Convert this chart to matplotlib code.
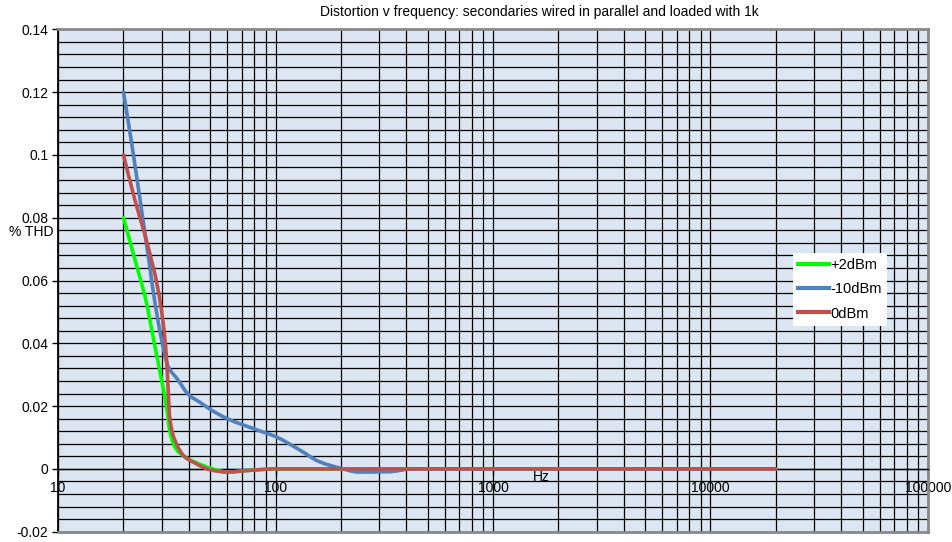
import matplotlib
matplotlib.use('Agg')
import numpy as np
import matplotlib.pyplot as plt
import matplotlib.transforms as mtransforms
from matplotlib.ticker import LogLocator, MultipleLocator, NullFormatter
from matplotlib.path import Path
from matplotlib.patches import PathPatch
from matplotlib.lines import Line2D

plt.rcParams['font.family'] = ['Liberation Sans', 'DejaVu Sans']

# ---------------- data ----------------
title = "Distortion v frequency: secondaries wired in parallel and loaded with 1k"
y_label = "% THD"
x_label = "Hz"

freq_p2 = [20, 23, 25.1, 27.9, 29.9, 31.5, 32.6, 34.4, 38.2, 42.5, 51.5, 60, 75, 100, 20000]
thd_p2 = [0.080, 0.0646, 0.055, 0.039, 0.0285, 0.020, 0.0125, 0.007, 0.0039, 0.0022,
          0.0, -0.001, -0.0005, 0.0, 0.0]

freq_m10 = [20, 22, 23.8, 26.4, 27.3, 29.9, 32.1, 35.5, 40, 45, 50, 60, 80, 100, 128,
            159, 197, 242, 333, 425, 20000]
thd_m10 = [0.120, 0.102, 0.086, 0.0646, 0.0573, 0.0413, 0.0326, 0.0285, 0.0235, 0.0212,
           0.0190, 0.0160, 0.0127, 0.0103, 0.0062, 0.0023, 0.0003, -0.001, -0.0009, 0.0, 0.0]

freq_0 = [20, 22.5, 25.6, 28.8, 30.4, 31.5, 32.1, 32.6, 34.4, 38.2, 42.5, 50, 60, 75, 100, 20000]
thd_0 = [0.100, 0.086, 0.0723, 0.0573, 0.0467, 0.0358, 0.0253, 0.0166, 0.0093, 0.0039,
         0.0019, -0.0003, -0.001, -0.0005, 0.0, 0.0]

series_labels = ["+2dBm", "-10dBm", "0dBm"]
series_colors = ["#00FF00", "#4F81BD", "#C0504D"]

x_ticks = [10, 100, 1000, 10000, 100000]
x_tick_labels = ["10", "100", "1000", "10000", "100000"]
y_ticks = [-0.02, 0, 0.02, 0.04, 0.06, 0.08, 0.1, 0.12, 0.14]
y_tick_labels = ["-0.02", "0", "0.02", "0.04", "0.06", "0.08", "0.1", "0.12", "0.14"]


def smooth_path(xs, ys):
    """Shape-preserving cubic Bezier path through the points (log-x space),
    like a spreadsheet's 'smoothed line'."""
    u = np.log10(np.asarray(xs, float))
    y = np.asarray(ys, float)
    h = np.diff(u)
    d = np.diff(y) / h
    n = len(u)
    m = np.zeros(n)
    m[0], m[-1] = d[0], d[-1]
    for k in range(1, n - 1):
        if d[k - 1] * d[k] <= 0:
            m[k] = 0.0
        else:
            w1 = 2 * h[k] + h[k - 1]
            w2 = h[k] + 2 * h[k - 1]
            m[k] = (w1 + w2) / (w1 / d[k - 1] + w2 / d[k])
    verts = [(10 ** u[0], y[0])]
    codes = [Path.MOVETO]
    for k in range(n - 1):
        c1 = (10 ** (u[k] + h[k] / 3), y[k] + m[k] * h[k] / 3)
        c2 = (10 ** (u[k + 1] - h[k] / 3), y[k + 1] - m[k + 1] * h[k] / 3)
        verts += [c1, c2, (10 ** u[k + 1], y[k + 1])]
        codes += [Path.CURVE4] * 3
    return Path(verts, codes)


# ---------------- figure ----------------
W, H = 953, 542
fig = plt.figure(figsize=(W / 100, H / 100), dpi=100)
left, right, top, bottom = 58, 928, 29.3, 531.7
ax = fig.add_axes([left / W, 1 - bottom / H, (right - left) / W, (bottom - top) / H])
ax.set_facecolor('#DCE6F2')

ax.set_xscale('log')

LW = 2.6
handles = []
for fx, fy, lab, col in zip([freq_p2, freq_m10, freq_0], [thd_p2, thd_m10, thd_0],
                            series_labels, series_colors):
    patch = PathPatch(smooth_path(fx, fy), facecolor='none', edgecolor=col, lw=LW,
                      transform=ax.transData, zorder=3, capstyle='round',
                      joinstyle='round')
    ax.add_patch(patch)
    handles.append(Line2D([], [], color=col, lw=LW + 0.4, label=lab))

ax.set_xticks(x_ticks)
ax.set_xticklabels(x_tick_labels)
ax.xaxis.set_minor_locator(LogLocator(base=10, subs=range(2, 10)))
ax.xaxis.set_minor_formatter(NullFormatter())
ax.set_yticks(y_ticks)
ax.set_yticklabels(y_tick_labels)
ax.yaxis.set_minor_locator(MultipleLocator(0.004))
ax.set_xlim(10, 100000)
ax.set_ylim(-0.02, 0.14)

ax.grid(which='both', color='black', lw=0.9)
ax.set_axisbelow(True)
ax.tick_params(which='minor', length=0)
ax.tick_params(which='major', direction='out', length=4, width=1, color='black',
               labelsize=10, labelcolor='black')
ax.tick_params(axis='x', pad=5)
ax.tick_params(axis='y', pad=3)

ax.spines['bottom'].set_position(('data', 0))
ax.spines['bottom'].set_color('black')
ax.spines['bottom'].set_linewidth(1.0)
ax.spines['left'].set_color('black')
ax.spines['left'].set_linewidth(1.3)
for s in ('top', 'right'):
    ax.spines[s].set_color('#888888')
    ax.spines[s].set_linewidth(2)
ax.plot([0, 1], [0, 0], transform=ax.transAxes, color='#888888', lw=2,
        clip_on=False, zorder=2.6)

# axis texts
trans = mtransforms.blended_transform_factory(ax.transAxes, ax.transData)
ax.text((541 - left) / (right - left), -0.0002, x_label, transform=trans,
        ha='center', va='top', fontsize=10, zorder=4)
fig.text(31 / W, 1 - 232 / H, y_label, ha='center', va='center', fontsize=10)
fig.text(539 / W, 1 - 12 / H, title, ha='center', va='center', fontsize=10)

leg = ax.legend(handles=handles, loc='upper left', bbox_to_anchor=(793 / W, 1 - 253 / H),
                bbox_transform=fig.transFigure, fontsize=10.5, frameon=True,
                fancybox=False, framealpha=1, facecolor='white', edgecolor='none',
                handlelength=2.1, handletextpad=0.1, labelspacing=0.7,
                borderpad=0.35, borderaxespad=0)
leg.set_zorder(5)

fig.savefig('out.png', dpi=100)
